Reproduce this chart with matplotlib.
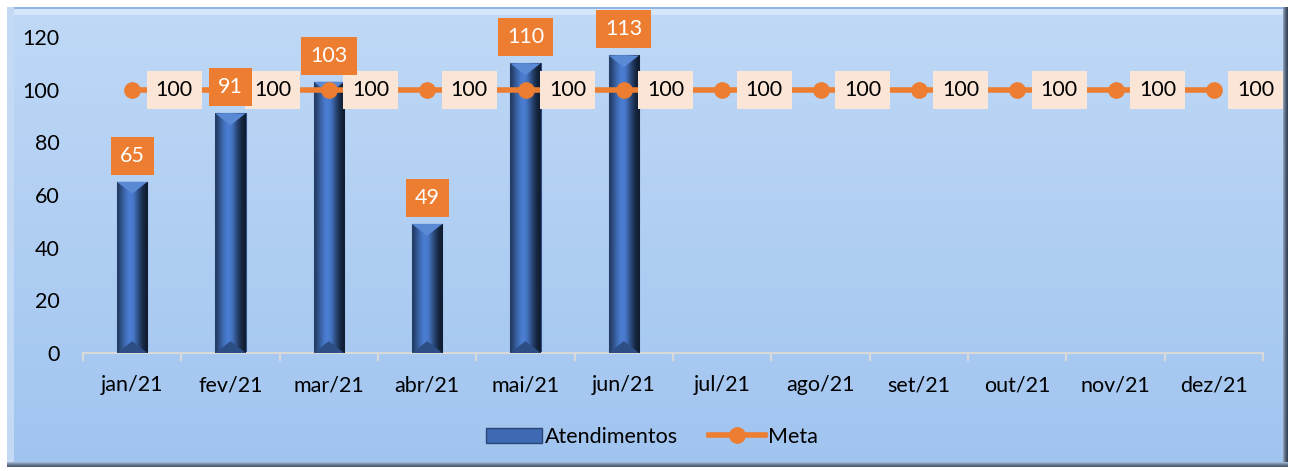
import numpy as np
import matplotlib
matplotlib.use("Agg")
import matplotlib.pyplot as plt
from matplotlib.patches import Rectangle, Patch
from matplotlib.lines import Line2D

plt.rcParams['font.family'] = ['Lato', 'DejaVu Sans']

months = ["jan/21", "fev/21", "mar/21", "abr/21", "mai/21", "jun/21",
          "jul/21", "ago/21", "set/21", "out/21", "nov/21", "dez/21"]
atendimentos = [65, 91, 103, 49, 110, 113]
meta = [100] * 12
yticks = [0, 20, 40, 60, 80, 100, 120]

FS = 15.5
W, H = 1293, 471
fig = plt.figure(figsize=(W / 100, H / 100), dpi=100)
fig.patch.set_facecolor("white")

# background panel
bg = fig.add_axes([0, 0, 1, 1], zorder=-5)
bg.set_xlim(0, W)
bg.set_ylim(H, 0)
bg.axis("off")
grad = np.linspace(0, 1, 256)[:, None]
top = np.array([0.75, 0.85, 0.965])
bot = np.array([0.63, 0.77, 0.94])
img = top[None, None, :] * (1 - grad[..., None]) + bot[None, None, :] * grad[..., None]
bg.imshow(img, extent=(7, 1288, 467, 7), aspect="auto", zorder=0)
# bevel edges
bg.add_patch(Rectangle((7, 7), 1281, 8, color="#d4e6fa", lw=0, zorder=1))
bg.add_patch(Rectangle((7, 7), 1281, 2, color="#8fb6e6", lw=0, zorder=1))
bg.add_patch(Rectangle((7, 7), 7, 460, color="#c4daf4", lw=0, zorder=1))
for i, c in enumerate(["#8a9bb3", "#6f8098", "#56667d", "#44536a", "#39465a"]):
    bg.add_patch(Rectangle((1283 + i, 7), 1, 460, color=c, lw=0, zorder=2))
for i, c in enumerate(["#9fb4cf", "#8397b2", "#6d7f98", "#5b6b82", "#4d5c72"]):
    bg.add_patch(Rectangle((7, 462 + i), 1281, 1, color=c, lw=0, zorder=2))

# main axes
x0, x1 = 83, 1263
y0, y1 = 353, 37
ax = fig.add_axes([x0 / W, (H - y0) / H, (x1 - x0) / W, (y0 - y1) / H])
ax.set_facecolor("none")
ax.set_xlim(-0.5, 11.5)
ax.set_ylim(0, 120)
for s in ["top", "right", "left"]:
    ax.spines[s].set_visible(False)
ax.spines["bottom"].set_color("#d9d9d9")
ax.spines["bottom"].set_linewidth(1.5)

x = np.arange(len(months))
ax.set_xticks(x)
ax.set_xticklabels(months, fontsize=FS)
ax.set_xticks(np.arange(-0.5, 12, 1), minor=True)
ax.tick_params(axis="x", which="major", length=0, pad=16)
ax.tick_params(axis="x", which="minor", length=6, color="#d9d9d9", width=1.5)
ax.set_yticks(yticks)
ax.set_yticklabels([str(v) for v in yticks], fontsize=FS)
ax.tick_params(axis="y", length=0, pad=17)

bars = ax.bar(x[:len(atendimentos)], atendimentos, width=0.31, color="#4472c4", zorder=2)
# gradient fill for bars
hgrad = np.array([0.35, 0.55, 0.75, 0.9, 0.95, 0.85, 0.6, 0.35, 0.15, 0.05])
cmap_img = np.zeros((1, len(hgrad), 3))
base = np.array([0.29, 0.49, 0.82])
for i, g in enumerate(hgrad):
    cmap_img[0, i] = base * (0.2 + 0.85 * g)
cmap_img = np.clip(cmap_img, 0, 1)
for b in bars:
    bx, bw, bh = b.get_x(), b.get_width(), b.get_height()
    im = ax.imshow(cmap_img, extent=(bx, bx + bw, 0, bh), aspect="auto",
                   interpolation="bilinear", zorder=3)
    im.set_clip_path(b)
    ax.fill([bx, bx + bw, bx + bw / 2], [bh, bh, bh - 4.5], color="#5a8ad6", zorder=4, lw=0)
    ax.fill([bx, bx + bw, bx + bw / 2], [0, 0, 4.5], color="#2d4d85", zorder=4, lw=0)
    b.set_edgecolor("#2f4f86")
    b.set_linewidth(0.8)

ax.plot(x, meta, color="#ed7d31", lw=4, marker="o", ms=11, zorder=5)

for xi, v in zip(x, meta):
    ax.annotate(str(v), (xi, v), xytext=(42, 0), textcoords="offset pixels",
                ha="center", va="center", fontsize=FS, color="black", zorder=6,
                bbox=dict(boxstyle="square,pad=0.42", fc="#fbe5d6", ec="none"))

for b, v in zip(bars, atendimentos):
    ax.annotate(str(v), (b.get_x() + b.get_width() / 2, v), xytext=(0, 26),
                textcoords="offset pixels", ha="center", va="center", fontsize=FS,
                color="white", zorder=7,
                bbox=dict(boxstyle="square,pad=0.42", fc="#ed7d31", ec="none"))

handles = [Patch(facecolor="#3f69b3", edgecolor="#2a4677"),
           Line2D([0], [0], color="#ed7d31", lw=4, marker="o", ms=11)]
fig.legend(handles, ["Atendimentos", "Meta"], loc="center", bbox_to_anchor=(652 / W, 1 - 437 / H),
           ncol=2, frameon=False, fontsize=FS, handlelength=2.6, handletextpad=0.15,
           columnspacing=1.4)

fig.savefig("out.png", dpi=100, facecolor="white")
